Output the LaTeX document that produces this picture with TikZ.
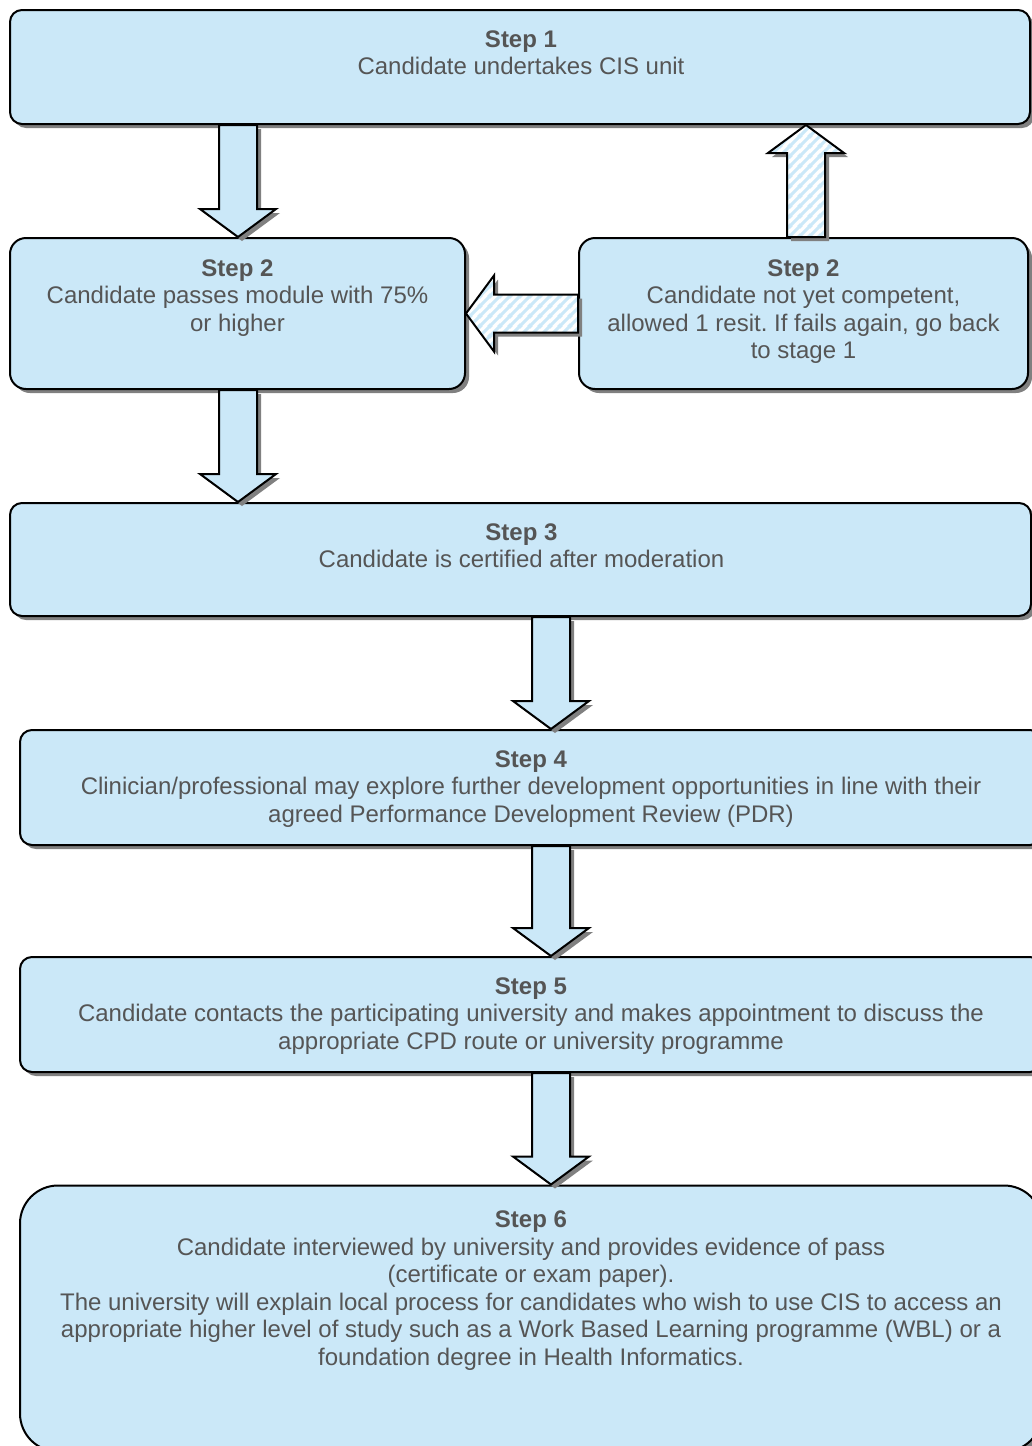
\documentclass[tikz,border=0pt]{standalone}
\usepackage{fontspec}
\setmainfont{Liberation Sans}
\usetikzlibrary{calc,shadows,patterns.meta}
\frenchspacing

\definecolor{boxblue}{RGB}{203,232,248}
\definecolor{textgray}{RGB}{85,85,85}
\definecolor{shadowgray}{RGB}{128,128,128}

\tikzdeclarepattern{
  name=resit stripes,
  type=uncolored,
  bounding box={(0pt,0pt) and (5pt,5pt)},
  tile size={(5pt,5pt)},
  code={
    \draw[line width=1.6pt] (-1pt,-1pt) -- (6pt,6pt);
    \draw[line width=1.6pt] (-1pt,4pt) -- (1pt,6pt);
    \draw[line width=1.6pt] (4pt,-1pt) -- (6pt,1pt);
  }
}

\begin{document}
\begin{tikzpicture}[x=0.5pt,y=-0.5pt]
                \tikzstyle{stepbox}=[rectangle, draw=black, line width=1pt, fill=boxblue, rounded corners=6pt, inner sep=0pt,
                        drop shadow={shadow xshift=2pt, shadow yshift=-2pt, fill=shadowgray, opacity=1}]
                \tikzstyle{steptext}=[anchor=north, align=center, inner sep=0pt, text=textgray, font=\fontsize{12}{13.75}\selectfont]
                \tikzstyle{blockarrow}=[to path={
                        ($(\tikztostart)!9.5pt!90:(\tikztotarget)$)
                        -- ($(\tikztotarget)!14pt!(\tikztostart)!9.5pt!-90:(\tikztostart)$)
                        -- ($(\tikztotarget)!14pt!(\tikztostart)!19pt!-90:(\tikztostart)$)
                        -- (\tikztotarget)
                        -- ($(\tikztotarget)!14pt!(\tikztostart)!19pt!90:(\tikztostart)$)
                        -- ($(\tikztotarget)!14pt!(\tikztostart)!9.5pt!90:(\tikztostart)$)
                        -- ($(\tikztostart)!9.5pt!-90:(\tikztotarget)$)
                        -- cycle}]
                \tikzstyle{passarrow}=[draw=black, line width=1pt, fill=boxblue,
                        drop shadow={shadow xshift=2pt, shadow yshift=-2pt, fill=shadowgray, opacity=1}]
                \tikzstyle{resitarrow}=[draw=black, line width=1pt,
                        drop shadow={shadow xshift=2pt, shadow yshift=-2pt, fill=shadowgray, opacity=1},
                        preaction={fill=white}, pattern=resit stripes, pattern color=boxblue]

                \useasboundingbox (0,0) rectangle (1032,1446);

                \node[stepbox, minimum width=510pt, minimum height=57pt] (s1) at (520,67) {};
                \node[stepbox, minimum width=227.5pt, minimum height=75.5pt, rounded corners=8pt] (s2pass) at (237.5,313.5) {};
                \node[stepbox, minimum width=224.5pt, minimum height=75.5pt, rounded corners=8pt] (s2resit) at (803.5,313.5) {};
                \node[stepbox, minimum width=510.5pt, minimum height=56.5pt] (s3) at (520.5,559.5) {};
                \node[stepbox, minimum width=511pt, minimum height=57.5pt] (s4) at (531,787.5) {};
                \node[stepbox, minimum width=511pt, minimum height=57.5pt] (s5) at (531,1014.5) {};
                \node[stepbox, minimum width=511pt, minimum height=133pt, rounded corners=19pt] (s6) at (531,1318.5) {};

                \node[steptext] (s1txt) at ([xshift=0.5pt,yshift=-10.5pt]s1.north) {\textbf{Step 1}\\Candidate undertakes CIS unit};
                \node[steptext] (s2passtxt) at ([yshift=-11pt]s2pass.north) {\textbf{Step 2}\\Candidate passes module with 75\%\\or higher};
                \node[steptext] (s2resittxt) at ([yshift=-11pt]s2resit.north) {\textbf{Step 2}\\Candidate not yet competent,\\allowed 1 resit. If fails again, go back\\to stage 1};
                \node[steptext] (s3txt) at ([xshift=0.5pt,yshift=-10.5pt]s3.north) {\textbf{Step 3}\\Candidate is certified after moderation};
                \node[steptext] (s4txt) at ([yshift=-10.5pt]s4.north) {\textbf{Step 4}\\Clinician/professional may explore further development opportunities in line with their\\agreed Performance Development Review (PDR)};
                \node[steptext] (s5txt) at ([yshift=-10.5pt]s5.north) {\textbf{Step 5}\\Candidate contacts the participating university and makes appointment to discuss the\\appropriate CPD route or university programme};
                \node[steptext] (s6txt) at ([yshift=-13pt]s6.north) {\textbf{Step 6}\\Candidate interviewed by university and provides evidence of pass\\(certificate or exam paper).\\The university will explain local process for candidates who wish to use CIS to access an\\appropriate higher level of study such as a Work Based Learning programme (WBL) or a\\foundation degree in Health Informatics.};

                % arrow columns
                \coordinate (colL) at (238,0);
                \coordinate (colR) at (551,0);
                \coordinate (colUp) at (806,0);

                \foreach \source/\dest/\col in {s1/s2pass/colL, s2pass/s3/colL, s3/s4/colR, s4/s5/colR, s5/s6/colR}
                \path[passarrow] (\source.south -| \col) to[blockarrow] (\dest.north -| \col);

                % back to stage 1
                \path[resitarrow] (s2resit.north -| colUp) to[blockarrow] (s1.south -| colUp);
                \path[resitarrow] (s2resit.west) to[blockarrow] (s2pass.east);
\end{tikzpicture}
\end{document}
